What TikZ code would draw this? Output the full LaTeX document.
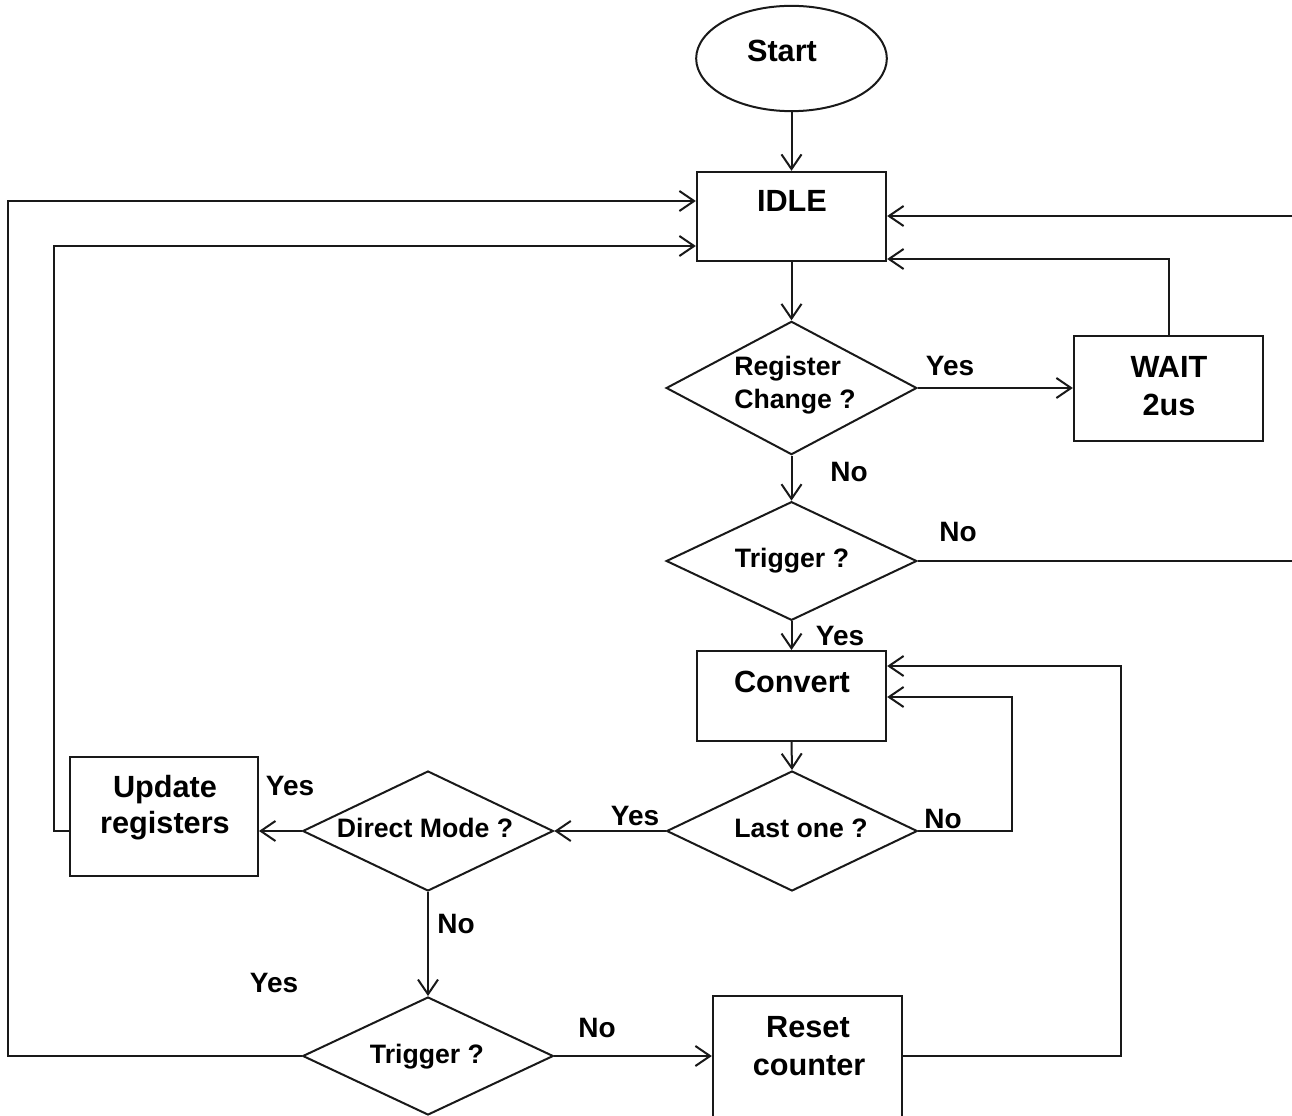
\documentclass[tikz,border=0pt]{standalone}
\usepackage{fontspec}
\setmainfont{Liberation Sans}
\usetikzlibrary{shapes.geometric,arrows.meta}
\tikzset{
  ln/.style={line width=1.5pt, draw=black!90},
  arr/.style={ln, -{Straight Barb[length=11pt,width=15pt,line width=1.5pt]}},
  boxnode/.style={ln, rectangle, inner sep=0pt},
  dianode/.style={ln, diamond, inner sep=0pt, minimum width=188pt},
  boxtxt/.style={inner sep=0pt, anchor=base, font=\bfseries\fontsize{23pt}{27pt}\selectfont},
  diatxt/.style={inner sep=0pt, anchor=base, font=\bfseries\fontsize{20pt}{24pt}\selectfont},
  lbl/.style={inner sep=0pt, anchor=base, font=\bfseries\fontsize{21pt}{25pt}\selectfont},
}
\begin{document}
\begin{tikzpicture}[x=0.75pt,y=-0.75pt]
\useasboundingbox (0,0) rectangle (1292,1116);
\clip (0,0) rectangle (1292,1116);
\fill[white] (0,0) rectangle (1292,1116);

% shapes
\node[ln, ellipse, minimum width=143pt, minimum height=79pt, inner sep=0pt] (start) at (791.5,58.5) {};
\node[boxnode, minimum width=142pt, minimum height=67pt] (idle) at (791.5,216.5) {};
\node[dianode, minimum height=100pt] (rc) at (791.5,388) {};
\node[boxnode, minimum width=142pt, minimum height=79pt] (wait) at (1168.5,388.5) {};
\node[dianode, minimum height=89pt] (t1) at (791.5,561) {};
\node[boxnode, minimum width=142pt, minimum height=67.5pt] (conv) at (791.5,696) {};
\node[dianode, minimum height=90pt] (lo) at (792,831) {};
\node[dianode, minimum height=90pt] (dm) at (428,831) {};
\node[boxnode, minimum width=141pt, minimum height=89pt] (upd) at (164,816.5) {};
\node[dianode, minimum height=88.5pt] (t2) at (428,1056) {};
\node[boxnode, minimum width=142pt, minimum height=94.5pt] (reset) at (807.5,1059) {};

% texts
\node[boxtxt] (tstart) at (782,62) {Start};
\node[boxtxt] (tidle) at (792,212) {IDLE};
\node[diatxt, anchor=base west] (trc1) at (734,375) {Register};
\node[diatxt, anchor=base west] (trc2) at (734,408) {Change ?};
\node[boxtxt] (twait1) at (1169,377) {WAIT};
\node[boxtxt] (twait2) at (1169,415) {2us};
\node[diatxt] (tt1) at (792,567) {Trigger ?};
\node[boxtxt] (tconv) at (792,692) {Convert};
\node[diatxt] (tlo) at (801,837) {Last one ?};
\node[diatxt] (tdm) at (425,837) {Direct Mode ?};
\node[boxtxt] (tupd1) at (165,797) {Update};
\node[boxtxt] (tupd2) at (165,833) {registers};
\node[diatxt] (tt2) at (427,1063) {Trigger ?};
\node[boxtxt] (tres1) at (808,1037) {Reset};
\node[boxtxt] (tres2) at (809,1075) {counter};

% labels
\node[lbl] (l1) at (950,375) {Yes};
\node[lbl] (l2) at (849,481) {No};
\node[lbl] (l3) at (958,541) {No};
\node[lbl] (l4) at (840,645) {Yes};
\node[lbl] (l5) at (943,828) {No};
\node[lbl] (l6) at (635,825) {Yes};
\node[lbl] (l7) at (290,795) {Yes};
\node[lbl] (l8) at (456,933) {No};
\node[lbl] (l9) at (274,992) {Yes};
\node[lbl] (l10) at (597,1037) {No};

% helper coordinates
\coordinate (oL1) at (8,1056);
\coordinate (oL2) at (8,201);
\coordinate (iL1) at (54,831);
\coordinate (iL2) at (54,246);
\coordinate (rR1) at (1310,561);
\coordinate (rR2) at (1310,216);
\coordinate (wI) at (1169,259);
\coordinate (rc1) at (1121,1056);
\coordinate (rc2) at (1121,666);
\coordinate (lc1) at (1012,831);
\coordinate (lc2) at (1012,697);

% connectors
\draw[arr] (start.south) -- (idle.north);
\draw[arr] (idle.south) -- (rc.north);
\draw[arr] (rc.east) -- (wait.west |- rc.east);
\draw[arr] (wait.north) -- (wait.north |- wI) -- (idle.east |- wI);
\draw[arr] (rc.south) -- (t1.north);
\draw[arr] (t1.east) -- (rR1) -- (rR2) -- (idle.east |- rR2);
\draw[arr] (t1.south) -- (conv.north);
\draw[arr] (conv.south) -- (lo.north);
\draw[arr] (lo.east) -- (lc1) -- (lc2) -- (conv.east |- lc2);
\draw[arr] (lo.west) -- (dm.east);
\draw[arr] (dm.west) -- (upd.east |- dm.west);
\draw[arr] (upd.west |- iL1) -- (iL1) -- (iL2) -- (idle.west |- iL2);
\draw[arr] (dm.south) -- (t2.north);
\draw[arr] (t2.west) -- (oL1) -- (oL2) -- (idle.west |- oL2);
\draw[arr] (t2.east) -- (reset.west |- t2.east);
\draw[arr] (reset.east |- t2.east) -- (rc1) -- (rc2) -- (conv.east |- rc2);
\end{tikzpicture}
\end{document}
